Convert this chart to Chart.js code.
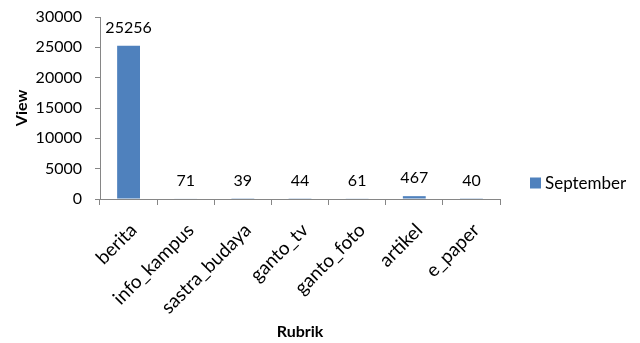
<!DOCTYPE html>
<html>
<head>
<meta charset="utf-8">
<script src="https://cdn.jsdelivr.net/npm/chart.js@4.4.1/dist/chart.umd.min.js"></script>
<style>
  html, body { margin: 0; padding: 0; background: #fff; }
  #wrap { width: 640px; height: 343px; position: relative; }
</style>
</head>
<body>
<div id="wrap"><canvas id="c" width="640" height="343"></canvas></div>
<script>
// Page views per section (Rubrik) for September
const categories = ['berita', 'info_kampus', 'sastra_budaya', 'ganto_tv', 'ganto_foto', 'artikel', 'e_paper'];
const septemberViews = [25256, 71, 39, 44, 61, 467, 40];
const seriesName = 'September';
const yTicks = [0, 5000, 10000, 15000, 20000, 25000, 30000];

const FONT = 'Lato, "Open Sans", sans-serif';
const BAR_BLUE = '#4F81BD';
const AXIS_GREY = '#868686';

// Value labels above each bar
const valueLabels = {
  id: 'valueLabels',
  afterDatasetsDraw(chart) {
    const ctx = chart.ctx;
    const meta = chart.getDatasetMeta(0);
    ctx.save();
    ctx.font = '16px ' + FONT;
    ctx.fillStyle = '#000';
    ctx.textAlign = 'center';
    ctx.textBaseline = 'middle';
    meta.data.forEach((bar, i) => {
      ctx.fillText(String(chart.data.datasets[0].data[i]), bar.x, bar.y - 18);
    });
    ctx.restore();
  }
};

// Legend entry at the right of the plot
const sideLegend = {
  id: 'sideLegend',
  afterDraw(chart) {
    const ctx = chart.ctx;
    const ds = chart.data.datasets[0];
    const x = chart.chartArea.right + 30;
    const y = 183;
    ctx.save();
    ctx.fillStyle = ds.backgroundColor;
    ctx.fillRect(x, y - 5.5, 11, 11);
    ctx.font = '17px ' + FONT;
    ctx.fillStyle = '#000';
    ctx.textAlign = 'left';
    ctx.textBaseline = 'middle';
    ctx.fillText(ds.label, x + 15, y + 1);
    ctx.restore();
  }
};

new Chart(document.getElementById('c'), {
  type: 'bar',
  data: {
    labels: categories,
    datasets: [{
      label: seriesName,
      data: septemberViews,
      backgroundColor: BAR_BLUE,
      borderWidth: 0,
      barPercentage: 0.4,
      categoryPercentage: 1.0
    }]
  },
  options: {
    responsive: false,
    animation: false,
    devicePixelRatio: 1,
    layout: { padding: { left: 0, right: 140, top: 17, bottom: 0 } },
    plugins: {
      legend: { display: false },
      tooltip: { enabled: false }
    },
    scales: {
      x: {
        grid: {
          offset: true,
          drawOnChartArea: false,
          drawTicks: true,
          tickLength: 6,
          tickColor: AXIS_GREY
        },
        border: { color: AXIS_GREY, width: 1 },
        ticks: {
          color: '#000',
          font: { family: FONT, size: 19 },
          minRotation: 45,
          maxRotation: 45,
          padding: 14,
          labelOffset: 5
        },
        title: {
          display: true,
          text: 'Rubrik',
          color: '#000',
          font: { family: FONT, size: 16, weight: 'bold' },
          padding: { top: 0, bottom: 2 }
        },
        afterFit(scale) { scale.height = 144; }
      },
      y: {
        min: 0,
        max: 30000,
        afterBuildTicks(scale) { scale.ticks = yTicks.map(v => ({ value: v })); },
        grid: {
          drawOnChartArea: false,
          drawTicks: true,
          tickLength: 5,
          tickColor: AXIS_GREY
        },
        border: { color: AXIS_GREY, width: 1 },
        ticks: {
          color: '#000',
          font: { family: FONT, size: 16 },
          padding: 13,
          callback: (v) => String(v)
        },
        title: {
          display: true,
          text: 'View',
          color: '#000',
          font: { family: FONT, size: 16, weight: 'bold' },
          padding: { top: 12, bottom: 0 }
        },
        afterFit(scale) {
          scale.width = 100;
          scale.paddingTop = 0;
          scale.paddingBottom = 0;
        }
      }
    }
  },
  plugins: [valueLabels, sideLegend]
});
</script>
</body>
</html>
